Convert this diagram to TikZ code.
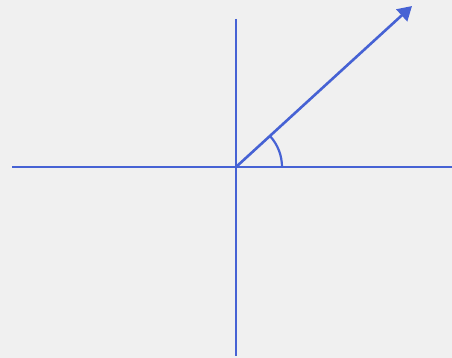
\documentclass[tikz,border=0pt]{standalone}
\usetikzlibrary{arrows.meta}
\definecolor{bg}{RGB}{240,240,240}
\definecolor{axisblue}{RGB}{70,98,212}
\begin{document}
\begin{tikzpicture}[x=1pt,y=-1pt,
  axis/.style={draw=axisblue,line width=2.2pt},
  vec/.style={axis,line width=2.6pt,-{Triangle[length=14pt,width=16pt]}}]
\fill[bg] (0,0) rectangle (452,358);
\useasboundingbox (0,0) rectangle (452,358);
\coordinate (O) at (236,167);
\coordinate (L) at (12,167);
\coordinate (R) at (452,167);
\coordinate (T) at (236,19);
\coordinate (B) at (236,356);
\coordinate (V) at (412,6);
\draw[axis] (L) -- (R);
\draw[axis] (T) -- (B);
\draw[vec] (O) -- (V);
\draw[axis] (282,167) arc[start angle=0,end angle=-42.4,radius=46];
\end{tikzpicture}
\end{document}
